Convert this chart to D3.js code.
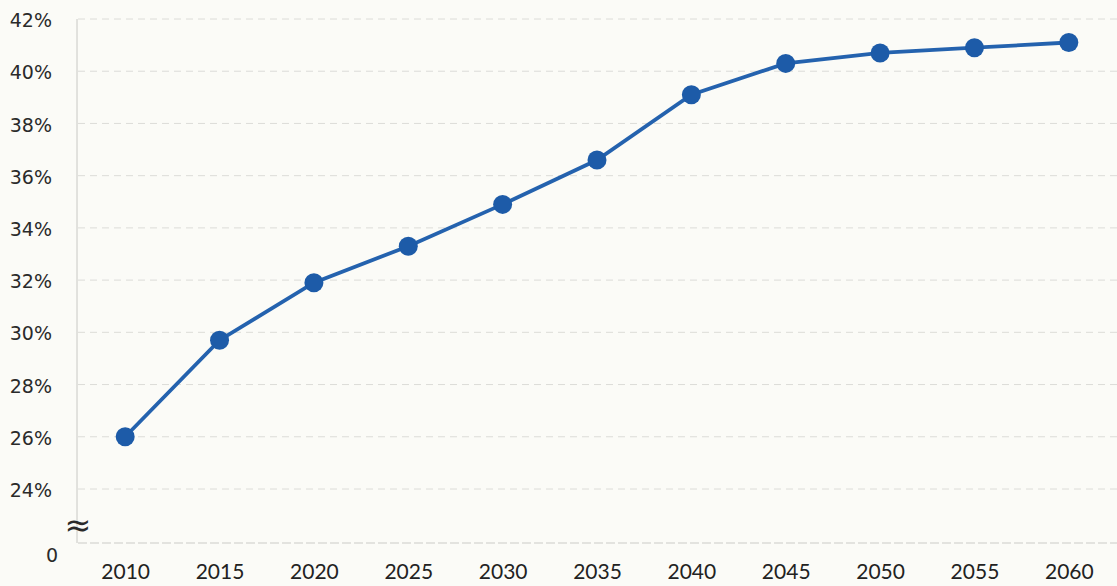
<!DOCTYPE html>
<html><head><meta charset="utf-8">
<script src="https://cdn.jsdelivr.net/npm/d3@7"></script>
<style>html,body{margin:0;padding:0;background:#fbfbf7;}svg{display:block;}</style>
</head><body>
<svg id="c" width="1117" height="586"></svg>
<script>
const years = [2010,2015,2020,2025,2030,2035,2040,2045,2050,2055,2060];
const values = [26.0,29.7,31.9,33.3,34.9,36.6,39.1,40.3,40.7,40.9,41.1];
const yTicks = [24,26,28,30,32,34,36,38,40,42];
const zeroTick = 0;

const W = 1117, H = 586;
const svg = d3.select('#c');
svg.append('rect').attr('width',W).attr('height',H).attr('fill','#fbfbf7');

const x = d3.scalePoint().domain(years).range([78,1116]).padding(0.5);
const y = d3.scaleLinear().domain([0,24,42]).range([543,489,19]);

// grid lines
svg.append('g').selectAll('line').data(yTicks).join('line')
  .attr('x1',78).attr('x2',W).attr('y1',d=>y(d)).attr('y2',d=>y(d))
  .attr('stroke','#dcdcd8').attr('stroke-width',1).attr('stroke-dasharray','7,5');
// baseline
svg.append('line').attr('x1',78).attr('x2',W).attr('y1',y(zeroTick)).attr('y2',y(zeroTick))
  .attr('stroke','#cbcbc7').attr('stroke-width',1).attr('stroke-dasharray','9,3');
// y axis line
svg.append('line').attr('x1',77).attr('x2',77).attr('y1',y(42)).attr('y2',y(zeroTick))
  .attr('stroke','#c8c8c4').attr('stroke-width',1);

// y axis labels
const yAxis = d3.axisLeft(y).tickValues(yTicks.concat([zeroTick])).tickSize(0)
  .tickFormat(d => d === 0 ? '0' : d + '%');
const gy = svg.append('g').attr('transform','translate(52,0)').call(yAxis);
gy.select('.domain').remove();
gy.selectAll('text').attr('font-family','DejaVu Sans, sans-serif').attr('font-size',19)
  .attr('fill','#2a2a2a').attr('x',0).attr('dy','0.4em')
  .filter(d=>d===0).attr('x',6).attr('dy','0.95em');

// break symbol
svg.append('text').attr('x',78).attr('y',525).attr('text-anchor','middle')
  .attr('dominant-baseline','central').attr('font-family','DejaVu Sans, sans-serif')
  .attr('font-size',32).attr('fill','#2a2a2a').text('≈');

// x axis labels
const xAxis = d3.axisBottom(x).tickSize(0).tickFormat(d=>String(d));
const gx = svg.append('g').attr('transform','translate(0,561)').call(xAxis);
gx.select('.domain').remove();
gx.selectAll('text').attr('font-family','Lato, sans-serif').attr('font-size',21)
  .attr('fill','#222').attr('dy','0.71em');

// line
const data = years.map((yr,i)=>({yr, v: values[i]}));
svg.append('path').datum(data)
  .attr('d', d3.line().x(d=>x(d.yr)).y(d=>y(d.v)))
  .attr('fill','none').attr('stroke','#2462ae').attr('stroke-width',3.8);
svg.append('g').selectAll('circle').data(data).join('circle')
  .attr('cx',d=>x(d.yr)).attr('cy',d=>y(d.v)).attr('r',9.5)
  .attr('fill','#1d5ba8');
</script>
</body></html>
